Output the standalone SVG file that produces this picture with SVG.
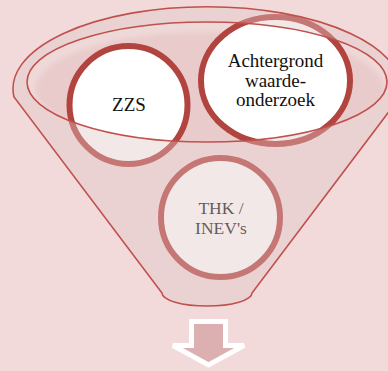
<svg xmlns="http://www.w3.org/2000/svg" width="388" height="371" viewBox="0 0 388 371">
  <style>
    .outline { fill: none; stroke: #c0504d; stroke-width: 1.6; }
    .ring { fill: #ffffff; stroke: #b24440; stroke-width: 6; }
    .label { font-family: "Liberation Serif", "Times New Roman", serif; font-size: 19px; fill: #111111; text-anchor: middle; }
    .small { font-size: 17.5px; }
  </style>
  <defs>
    <clipPath id="mouthClip">
      <ellipse cx="207" cy="82" rx="180" ry="60"/>
    </clipPath>
    <filter id="soft" x="-10%" y="-20%" width="120%" height="140%">
      <feGaussianBlur stdDeviation="2.5"/>
    </filter>
  </defs>

  <!-- page background -->
  <rect x="0" y="0" width="388" height="371" fill="#f2dada"/>

  <!-- funnel mouth: inner opening with a slightly darker core -->
  <g id="funnel-mouth">
    <ellipse cx="207" cy="82" rx="180" ry="60" fill="#efd8d8"/>
    <g clip-path="url(#mouthClip)">
      <ellipse cx="210" cy="89" rx="174" ry="57" fill="#e9cbcb" filter="url(#soft)"/>
    </g>
  </g>

  <!-- items poured into the funnel -->
  <g id="node-zzs">
    <circle class="ring" cx="128.5" cy="105" r="59"/>
    <text class="label" x="129" y="111">ZZS</text>
  </g>
  <g id="node-achtergrond">
    <ellipse class="ring" cx="275.5" cy="80.5" rx="74.5" ry="63.5"/>
    <text class="label" x="275.5" y="67">Achtergrond</text>
    <text class="label" x="275.5" y="86.5">waarde-</text>
    <text class="label" x="275.5" y="106">onderzoek</text>
  </g>
  <g id="node-thk">
    <circle class="ring" cx="220.5" cy="217.5" r="59.5"/>
    <text class="label small" x="221" y="214">THK /</text>
    <text class="label small" x="221" y="233.5">INEV's</text>
  </g>

  <!-- translucent funnel body (rim + cone), opening left clear -->
  <g id="funnel-body">
    <path fill="#e2c6c6" fill-opacity="0.4" fill-rule="evenodd"
          d="M14,97 A194,82 0 1 1 400,97 L252,293 A45,13 0 0 1 162,293 Z
             M27,82 A180,60 0 1 0 387,82 A180,60 0 1 0 27,82 Z"/>
    <path class="outline" d="M14,97 A194,82 0 1 1 400,97 L252,293 A45,13 0 0 1 162,293 Z"/>
    <ellipse class="outline" cx="207" cy="82" rx="180" ry="60"/>
  </g>

  <!-- result arrow below the funnel -->
  <g id="connectors">
    <polygon points="191.5,321.5 225.5,321.5 225.5,345.5 244,345.5 208.5,365 173,345.5 191.5,345.5"
             fill="#dcb0b0" stroke="#ffffff" stroke-width="5" stroke-linejoin="miter"/>
  </g>
</svg>
